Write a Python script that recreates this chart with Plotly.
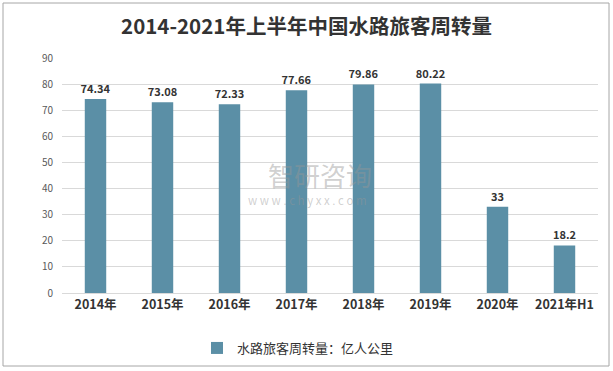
import plotly.graph_objects as go

categories = ["2014年", "2015年", "2016年", "2017年", "2018年", "2019年", "2020年", "2021年H1"]
values = [74.34, 73.08, 72.33, 77.66, 79.86, 80.22, 33, 18.2]
value_labels = ["74.34", "73.08", "72.33", "77.66", "79.86", "80.22", "33", "18.2"]
series_name = "水路旅客周转量：亿人公里"
title_text = "2014-2021年上半年中国水路旅客周转量"

font_family = "Noto Sans CJK SC, Microsoft YaHei, sans-serif"

L, R, T, B = 62, 15, 58, 78
W, H = 613, 371
pw, ph = W - L - R, H - T - B

def px_x(x):
    return (x - L) / pw

def px_y(y):
    return (H - B - y) / ph

fig = go.Figure()
fig.add_trace(go.Bar(
    x=categories, y=values, name=series_name,
    marker=dict(color="#5B8FA6", line=dict(width=0)),
    text=value_labels, textposition="outside", cliponaxis=False,
    constraintext="none",
    textfont=dict(size=11, color="#333333", family=font_family, weight="bold"),
))

fig.update_layout(
    width=W, height=H,
    paper_bgcolor="white", plot_bgcolor="white",
    margin=dict(l=L, r=R, t=T, b=B, autoexpand=False),
    title=dict(text=title_text, x=0.5, xanchor="center", y=1 - 27 / H, yanchor="middle",
               font=dict(size=20.5, color="#333333", family=font_family, weight="bold")),
    bargap=0.68,
    showlegend=True,
    legend=dict(orientation="h", x=px_x(197), xanchor="left", y=px_y(333), yanchor="top",
                font=dict(size=13, color="#333333", family=font_family), itemwidth=30),
    xaxis=dict(tickfont=dict(size=12.5, color="#333333", family=font_family, weight="bold"),
               showline=True, linecolor="#D9D9D9", ticks="", automargin=False),
    yaxis=dict(range=[0, 90], dtick=10, showgrid=True, gridcolor="#D9D9D9",
               tickfont=dict(size=10, color="#595959", family=font_family),
               zeroline=False, automargin=False, ticklabelstandoff=8),
    shapes=[dict(type="rect", xref="paper", yref="paper",
                 x0=px_x(3), x1=px_x(609), y0=px_y(366), y1=px_y(3),
                 line=dict(color="#A6A6A6", width=1), fillcolor="rgba(0,0,0,0)", layer="below")],
    annotations=[
        dict(text="智研咨询", x=px_x(320), y=px_y(174), xref="paper", yref="paper", showarrow=False,
             font=dict(size=26, color="rgba(150,150,150,0.45)", family=font_family)),
        dict(text="w w w . c h y x x . c o m", x=px_x(307), y=px_y(200), xref="paper", yref="paper",
             showarrow=False,
             font=dict(size=11.5, color="rgba(150,150,150,0.45)", family=font_family)),
    ],
)

fig.write_html("out.html", config={"displayModeBar": False},
               post_script="document.body.style.margin='0';")
